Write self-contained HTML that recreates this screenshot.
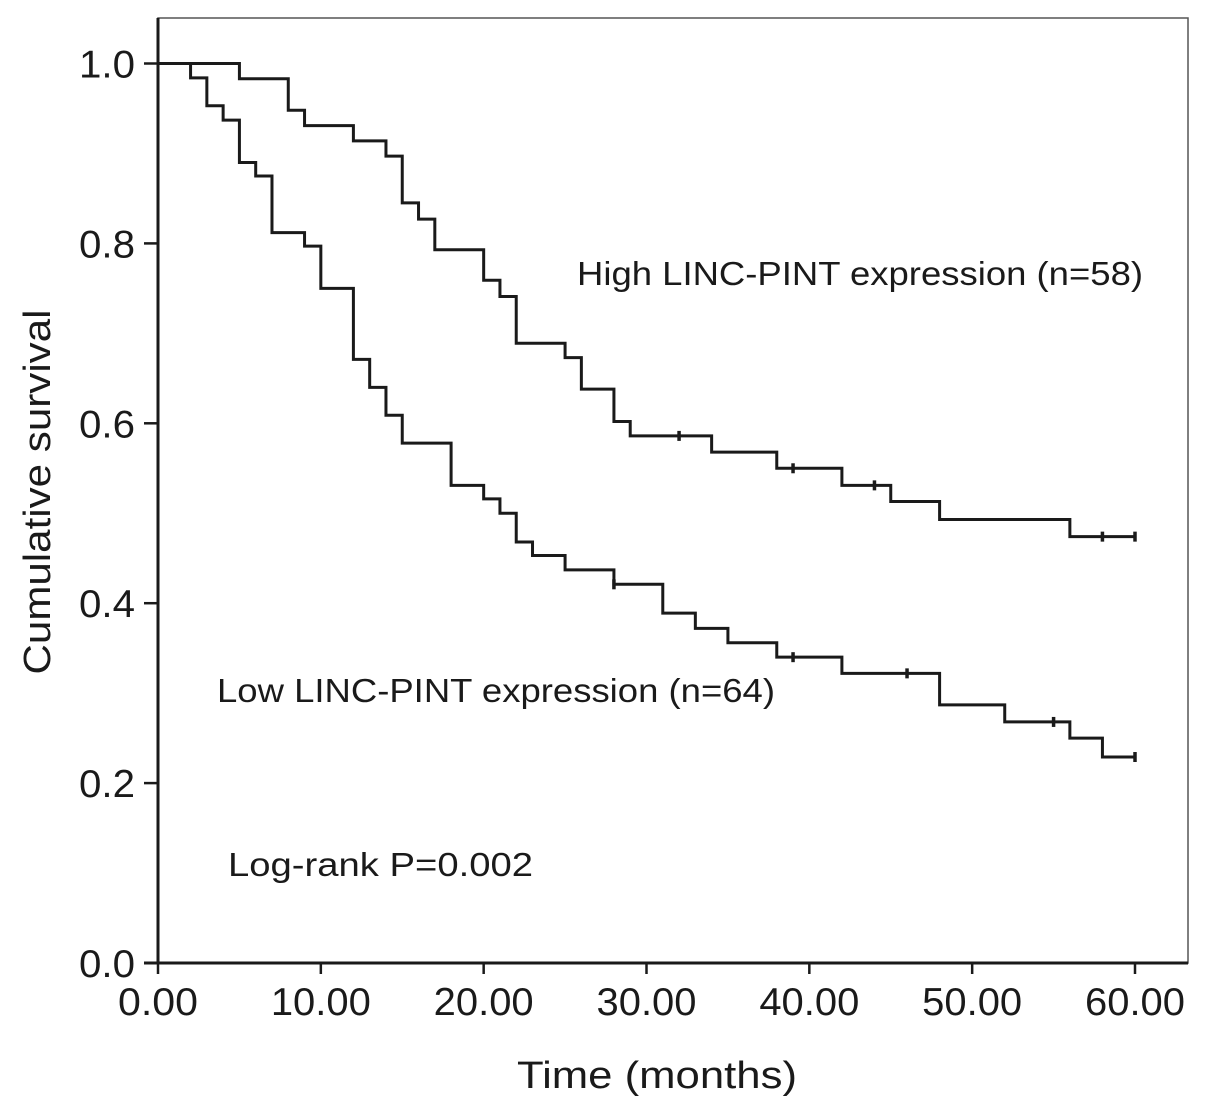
<!DOCTYPE html>
<html><head><meta charset="utf-8"><style>
html,body{margin:0;padding:0;background:#fff;}
svg{display:block;font-family:"Liberation Sans",Arial,sans-serif;}
</style></head><body>
<svg id="chart" width="1205" height="1107" viewBox="0 0 1205 1107" xmlns="http://www.w3.org/2000/svg">
<rect x="0" y="0" width="1205" height="1107" fill="#fff"/>
<rect x="158" y="18" width="1030" height="945" fill="none" stroke="#555" stroke-width="1.5"/>
<g id="axes"></g>
<g id="series"></g>
<text transform="translate(50,492) rotate(-90)" text-anchor="middle" font-size="38" textLength="365" lengthAdjust="spacingAndGlyphs" fill="#1a1a1a">Cumulative survival</text>
<text x="517" y="1088" font-size="38" textLength="280" lengthAdjust="spacingAndGlyphs" fill="#1a1a1a">Time (months)</text>
<text x="577" y="285" font-size="33" textLength="566" lengthAdjust="spacingAndGlyphs" fill="#1a1a1a">High LINC-PINT expression (n=58)</text>
<text x="217" y="702" font-size="33" textLength="558" lengthAdjust="spacingAndGlyphs" fill="#1a1a1a">Low LINC-PINT expression (n=64)</text>
<text x="228" y="876" font-size="33" textLength="305" lengthAdjust="spacingAndGlyphs" fill="#1a1a1a">Log-rank P=0.002</text>
</svg>
<script>
const xTicks = [0, 10, 20, 30, 40, 50, 60];
const xTickLabels = ["0.00", "10.00", "20.00", "30.00", "40.00", "50.00", "60.00"];
const yTicks = [0, 0.2, 0.4, 0.6, 0.8, 1.0];
const yTickLabels = ["0.0", "0.2", "0.4", "0.6", "0.8", "1.0"];
const highTimes = [0, 5, 8, 9, 12, 14, 15, 16, 17, 20, 21, 22, 25, 26, 28, 29, 34, 38, 42, 45, 48, 56, 60];
const highSurv  = [1.0, 0.983, 0.948, 0.931, 0.914, 0.897, 0.845, 0.827, 0.793, 0.759, 0.741, 0.689, 0.673, 0.638, 0.602, 0.586, 0.568, 0.550, 0.531, 0.513, 0.493, 0.474, 0.474];
const highCensor = [32, 39, 44, 58, 60];
const lowTimes = [0, 2, 3, 4, 5, 6, 7, 9, 10, 12, 13, 14, 15, 18, 20, 21, 22, 23, 25, 28, 31, 33, 35, 38, 42, 48, 52, 56, 58, 60];
const lowSurv  = [1.0, 0.984, 0.953, 0.937, 0.890, 0.875, 0.812, 0.797, 0.750, 0.671, 0.640, 0.609, 0.578, 0.531, 0.516, 0.500, 0.468, 0.453, 0.437, 0.421, 0.389, 0.372, 0.356, 0.340, 0.322, 0.287, 0.268, 0.250, 0.229, 0.229];
const lowCensor = [28, 39, 46, 55, 60];

const NS = "http://www.w3.org/2000/svg";
const X0 = 158, XPER = (1135 - 158) / 60;
const Y0 = 963, YSPAN = 963 - 63.5;
function xs(t){ return X0 + t * XPER; }
function ys(v){ return Y0 - v * YSPAN; }
function mk(tag, attrs, parent){
  const e = document.createElementNS(NS, tag);
  for (const k in attrs) e.setAttribute(k, attrs[k]);
  parent.appendChild(e);
  return e;
}
const axes = document.getElementById('axes');
const series = document.getElementById('series');
const yAxis = mk('line', {x1:X0, y1:18, x2:X0, y2:Y0, stroke:'#1a1a1a', 'stroke-width':3}, axes);


const xAxis = mk('line', {x1:144, y1:Y0, x2:1188, y2:Y0, stroke:'#1a1a1a', 'stroke-width':3}, axes);


yTicks.forEach((v, i) => {
  const tk = mk('line', {x1:144, y1:ys(v), x2:X0, y2:ys(v), stroke:'#1a1a1a', 'stroke-width':2.5}, axes);
  
  
  const tl = mk('text', {x:135, y:ys(v) + 14, 'text-anchor':'end', 'font-size':39, textLength:56, lengthAdjust:'spacingAndGlyphs', fill:'#1a1a1a'}, axes);
  tl.textContent = yTickLabels[i];
  
  
});
xTicks.forEach((t, i) => {
  const tk = mk('line', {x1:xs(t), y1:Y0, x2:xs(t), y2:974, stroke:'#1a1a1a', 'stroke-width':2.5}, axes);
  
  
  const w = xTickLabels[i].length > 4 ? 100 : 80;
  const tl = mk('text', {x:xs(t) - w / 2, y:1015, 'font-size':39, textLength:w, lengthAdjust:'spacingAndGlyphs', fill:'#1a1a1a'}, axes);
  tl.textContent = xTickLabels[i];
  
  
});
function survAt(times, surv, t){
  let v = surv[0];
  for (let i = 0; i < times.length; i++) if (times[i] <= t) v = surv[i];
  return v;
}
function drawCurve(times, surv, censor, name){
  let d = 'M' + xs(times[0]) + ' ' + ys(surv[0]);
  for (let i = 1; i < times.length; i++){
    d += ' H' + xs(times[i]) + ' V' + ys(surv[i]);
  }
  const p = mk('path', {d:d, fill:'none', stroke:'#1a1a1a', 'stroke-width':3}, series);
  
  
  censor.forEach(t => {
    const v = survAt(times, surv, t);
    const c = mk('line', {x1:xs(t), y1:ys(v) - 5, x2:xs(t), y2:ys(v) + 5, stroke:'#1a1a1a', 'stroke-width':3.5}, series);
    
    
  });
}
drawCurve(highTimes, highSurv, highCensor, 'high-expression');
drawCurve(lowTimes, lowSurv, lowCensor, 'low-expression');
</script>
</body></html>
